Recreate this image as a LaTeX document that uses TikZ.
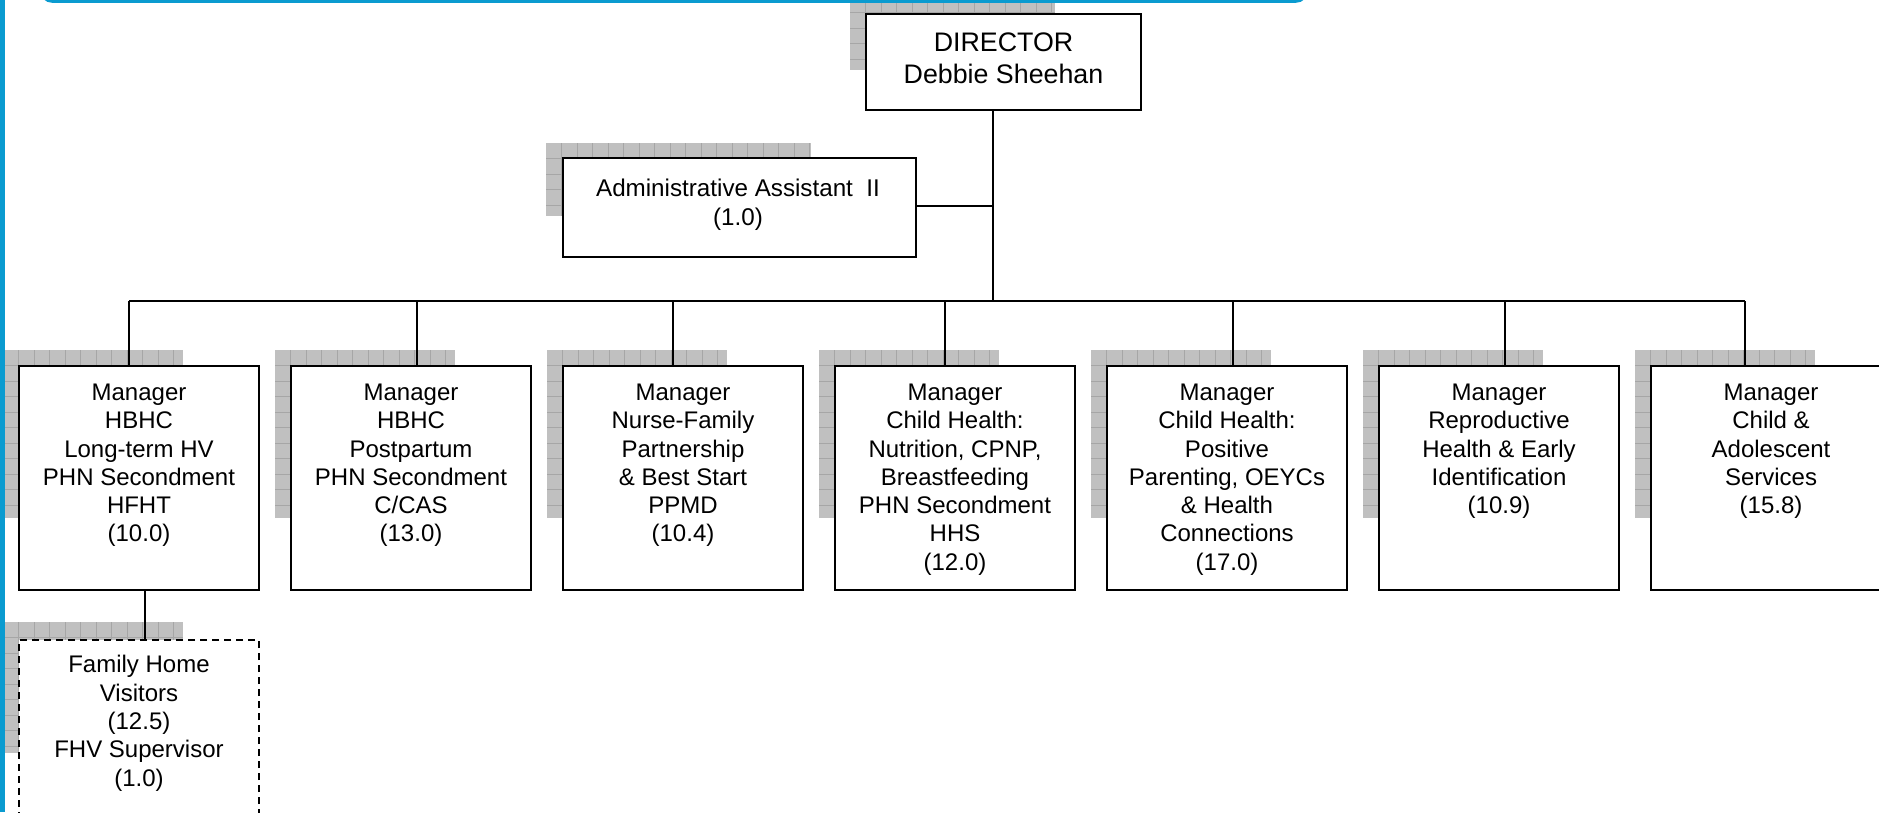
\documentclass[tikz,border=0pt]{standalone}
\usepackage{fontspec}
\setmainfont{Liberation Sans}
\definecolor{frameblue}{HTML}{0A9BD0}
\definecolor{shadowgray}{HTML}{C0C0C0}
\definecolor{shadowline}{HTML}{A6A6A6}
\newcommand\myfs{\rule{0pt}{0.76em}}
\newcommand\myshadow[4]{%
  \begin{scope}[shift={(#1,#2)}]
    \fill[shadowgray] (0,0) rectangle (#3,#4);
    \clip (0,0) rectangle (#3,#4);
    \foreach \k in {1,...,20}
      \draw[shadowline, line width=0.9pt] (\k*15.5,0) -- (\k*15.5,#4) (0,\k*15.5) -- (#3,\k*15.5);
  \end{scope}}
\tikzset{
  box/.style={draw, fill=white, line width=2pt, inner sep=0pt, anchor=north west, rectangle},
  mgrbox/.style={box, minimum width=240pt, minimum height=224pt},
  dashbox/.style={box, dash pattern=on 7pt off 5pt, minimum width=240pt, minimum height=200pt},
  conn/.style={line width=2pt},
  mtext/.style={anchor=north, inner sep=0pt, align=center, font=\fontsize{24}{28.3}\selectfont},
  dtext/.style={anchor=north, inner sep=0pt, align=center, font=\fontsize{26.8}{31.4}\selectfont},
  atext/.style={anchor=north, inner sep=0pt, align=center, font=\fontsize{24.2}{28.5}\selectfont},
}
\begin{document}
\begin{tikzpicture}[x=1pt, y=-1pt]
\useasboundingbox (0,0) rectangle (1879,812);
\fill[white] (0,0) rectangle (1879,812);

% shadows
\myshadow{850}{-3}{205}{73}
\myshadow{546}{143}{265}{73}
\foreach \bx in {18,290,562,834,1106,1378,1650}
  \myshadow{\bx-15}{350}{180}{168};
\myshadow{3}{622}{180}{131}

% boxes
\node[box, minimum width=275pt, minimum height=96pt] (dir) at (865,13) {};
\node[box, minimum width=353pt, minimum height=99pt] (adm) at (562,157) {};
\node[mgrbox] (m1) at (18,365) {};
\node[mgrbox] (m2) at (290,365) {};
\node[mgrbox] (m3) at (562,365) {};
\node[mgrbox] (m4) at (834,365) {};
\node[mgrbox] (m5) at (1106,365) {};
\node[mgrbox] (m6) at (1378,365) {};
\node[mgrbox] (m7) at (1650,365) {};
\node[dashbox] (fhv) at (18,639) {};

% texts
\node[dtext] (dirt) at ([yshift=-18.3pt]dir.north) {\myfs DIRECTOR\\Debbie Sheehan};
\node[atext] (admt) at ([xshift=-1.5pt,yshift=-21pt]adm.north) {\myfs Administrative Assistant\ \ II\\(1.0)};
\node[mtext] (m1t) at ([yshift=-17pt]m1.north) {\myfs Manager\\HBHC\\Long-term HV\\PHN Secondment\\HFHT\\(10.0)};
\node[mtext] (m2t) at ([yshift=-17pt]m2.north) {\myfs Manager\\HBHC\\Postpartum\\PHN Secondment\\C/CAS\\(13.0)};
\node[mtext] (m3t) at ([yshift=-17pt]m3.north) {\myfs Manager\\Nurse-Family\\Partnership\\\& Best Start\\PPMD\\(10.4)};
\node[mtext] (m4t) at ([yshift=-17pt]m4.north) {\myfs Manager\\Child Health:\\Nutrition, CPNP,\\Breastfeeding\\PHN Secondment\\HHS\\(12.0)};
\node[mtext] (m5t) at ([yshift=-17pt]m5.north) {\myfs Manager\\Child Health:\\Positive\\Parenting, OEYCs\\\& Health\\Connections\\(17.0)};
\node[mtext] (m6t) at ([yshift=-17pt]m6.north) {\myfs Manager\\Reproductive\\Health \& Early\\Identification\\(10.9)};
\node[mtext] (m7t) at ([yshift=-17pt]m7.north) {\myfs Manager\\Child \&\\Adolescent\\Services\\(15.8)};
\node[mtext] (fhvt) at ([yshift=-15.5pt]fhv.north) {\myfs Family Home\\Visitors\\(12.5)\\FHV Supervisor\\(1.0)};

% connectors
\coordinate (bus) at (993,301);
\coordinate (d1) at (129,301);
\coordinate (d2) at (417,301);
\coordinate (d3) at (673,301);
\coordinate (d4) at (945,301);
\coordinate (d5) at (1233,301);
\coordinate (d6) at (1505,301);
\coordinate (d7) at (1745,301);
\coordinate (fx) at (145,600);
\draw[conn] (dir.south -| bus) -- (bus);
\draw[conn] ([xshift=-2pt,yshift=1.5pt]adm.east) -- ([yshift=1.5pt]adm.east -| bus);
\draw[conn] (d1) -- (d7);
\foreach \i in {1,...,7}
  \draw[conn] (d\i) -- (m\i.north -| d\i);
\draw[conn] (m1.south -| fx) -- (fhv.north -| fx);

% blue frame parts
\fill[frameblue] (0,0) rectangle (5,812);
\draw[frameblue, line width=3.5pt, rounded corners=10pt] (42,-40) -- (42,1) -- (1306,1) -- (1306,-40);
\end{tikzpicture}
\end{document}
